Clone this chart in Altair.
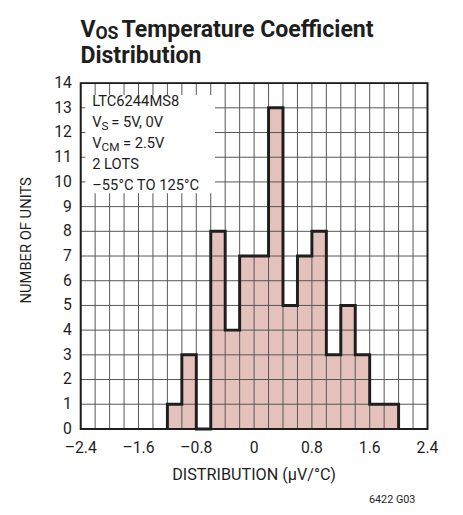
import altair as alt
import pandas as pd

# ---------------- data ----------------
bin_starts = [-1.2, -1.0, -0.8, -0.6, -0.4, -0.2, 0.0, 0.2, 0.4, 0.6, 0.8, 1.0, 1.2, 1.4, 1.6, 1.8]
counts = [1, 3, 0, 8, 4, 7, 7, 13, 5, 7, 8, 3, 5, 3, 1, 1]
bin_width = 0.2
x_ticks = [-2.4, -1.6, -0.8, 0.0, 0.8, 1.6, 2.4]
x_tick_labels = ["–2.4", "–1.6", "–0.8", "0", "0.8", "1.6", "2.4"]
y_ticks = [0, 1, 2, 3, 4, 5, 6, 7, 8, 9, 10, 11, 12, 13, 14]
x_grid = [-2.4, -2.2, -2.0, -1.8, -1.6, -1.4, -1.2, -1.0, -0.8, -0.6, -0.4, -0.2, 0.0,
          0.2, 0.4, 0.6, 0.8, 1.0, 1.2, 1.4, 1.6, 1.8, 2.0, 2.2, 2.4]
y_grid = y_ticks

title_main = "V"
title_sub = "OS"
title_rest = "Temperature Coefficient"
title_line2 = "Distribution"
x_title = "DISTRIBUTION (µV/°C)"
y_title = "NUMBER OF UNITS"
note = "6422 G03"

W, H = 353, 352
FONT = "Roboto"
PINK = "#e5c1bb"
GRID = "#555555"
INK = "#1e1e1e"

bars = pd.DataFrame({
    "start": bin_starts,
    "end": [s + bin_width for s in bin_starts],
    "count": counts,
    "base": [0] * len(counts),
})
bars = bars[bars["count"] > 0]

ox = [bin_starts[0]] + bin_starts + [bin_starts[-1] + bin_width]
oy = [0] + counts + [0]
outline = pd.DataFrame({"x": ox, "y": oy, "i": list(range(len(ox)))})

# grid segments: vertical lines at x_grid, horizontal lines at y_grid
grid = pd.DataFrame({
    "x1": x_grid + [x_grid[0]] * len(y_grid),
    "x2": x_grid + [x_grid[-1]] * len(y_grid),
    "y1": [y_grid[0]] * len(x_grid) + y_grid,
    "y2": [y_grid[-1]] * len(x_grid) + y_grid,
})

xs = alt.Scale(domain=[-2.4, 2.4], nice=False, zero=False)
ys = alt.Scale(domain=[0, 14], nice=False)

bar_layer = alt.Chart(bars).mark_rect(color=PINK).encode(
    x=alt.X("start:Q", scale=xs, axis=None),
    x2="end:Q",
    y=alt.Y("count:Q", scale=ys, axis=None),
    y2="base:Q",
)

grid_layer = alt.Chart(grid).mark_rule(stroke=GRID, strokeWidth=1, opacity=1).encode(
    x=alt.X("x1:Q", scale=xs, axis=None), x2="x2:Q",
    y=alt.Y("y1:Q", scale=ys, axis=None), y2="y2:Q")

box = alt.Chart(pd.DataFrame({"a": [0]})).mark_rect(color="white").encode(
    x=alt.value(4.7), x2=alt.value(136.7), y=alt.value(12), y2=alt.value(112))

line = alt.Chart(outline).mark_line(
    interpolate="step-after", color=INK, strokeWidth=3, strokeJoin="miter").encode(
    x=alt.X("x:Q", scale=xs, axis=None),
    y=alt.Y("y:Q", scale=ys, axis=None),
    order="i:Q")

frame = alt.Chart(pd.DataFrame({"b": [0]})).mark_rect(
    fillOpacity=0, stroke=INK, strokeWidth=2).encode(
    x=alt.value(0), x2=alt.value(W), y=alt.value(0), y2=alt.value(H))

xlab = alt.Chart(pd.DataFrame({"v": x_ticks, "t": x_tick_labels})).mark_text(
    font=FONT, fontSize=16, color=INK, align="center", baseline="alphabetic").encode(
    x=alt.X("v:Q", scale=xs, axis=None), y=alt.value(H + 25), text="t:N")
ylab = alt.Chart(pd.DataFrame({"w": y_ticks})).mark_text(
    font=FONT, fontSize=16, color=INK, align="right", baseline="middle").encode(
    y=alt.Y("w:Q", scale=ys, axis=None), x=alt.value(-9), text="w:Q")


def txt(s, x, y, size, bold=False, align="left", angle=0):
    return alt.Chart(pd.DataFrame({"t": [s]})).mark_text(
        font=FONT, fontSize=size, fontWeight="bold" if bold else "normal",
        align=align, baseline="alphabetic", color=INK, angle=angle).encode(
        text="t:N", x=alt.value(x), y=alt.value(y))


texts = [
    txt("LTC6244MS8", 11.7, 23.3, 15),
    txt("V", 11.7, 44.5, 15), txt("S", 21.2, 47.5, 12), txt("= 5V, 0V", 31, 44.5, 15),
    txt("V", 11.7, 65.8, 15), txt("CM", 21.2, 68.8, 12), txt("= 2.5V", 43, 65.8, 15),
    txt("2 LOTS", 11.7, 87, 15),
    txt("–55°C TO 125°C", 11.7, 108.3, 15),
    txt(title_main, -0.3, -47, 23.5, bold=True),
    txt(title_sub, 15, -45, 18, bold=True),
    txt(title_rest, 41.5, -47, 23.5, bold=True),
    txt(title_line2, -0.3, -20, 23.5, bold=True),
    txt(x_title, W / 2, H + 52, 16.5, align="center"),
    txt(y_title, -51, 160, 15, align="center", angle=270),
    txt(note, 340.7, 427, 11, align="right"),
]

chart = alt.layer(bar_layer, grid_layer, box, line, frame, xlab, ylab, *texts).properties(
    width=W, height=H,
    autosize=alt.AutoSizeParams(type="none"),
    padding={"left": 74, "top": 72, "right": 28, "bottom": 75},
).configure_view(stroke=None).configure(background="white")

chart.save("out.html", embed_options={"renderer": "svg", "actions": False})
